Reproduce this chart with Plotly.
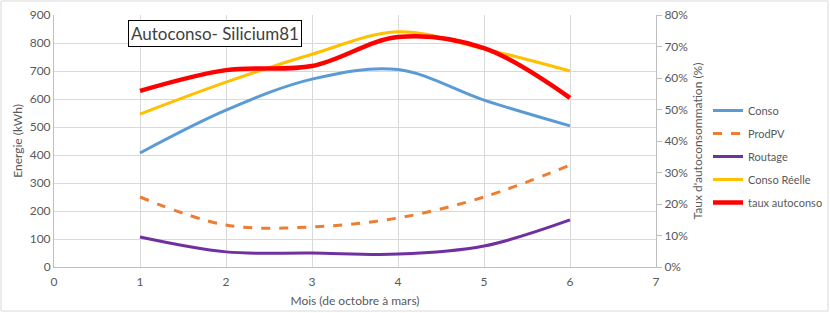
import plotly.graph_objects as go

mois = [1, 2, 3, 4, 5, 6]
conso = [407, 560, 671, 705, 596, 504]
prodpv = [250, 150, 143, 175, 250, 364]
routage = [107, 54, 50, 46, 75, 168]
conso_reelle = [546, 660, 760, 840, 779, 700]
taux = [0.559, 0.625, 0.638, 0.730, 0.695, 0.537]

FONT = "Lato"
GRAY = "#595959"

fig = go.Figure()
fig.add_trace(go.Scatter(x=mois, y=conso, name="Conso", mode="lines", legendgroup="a",
                         line=dict(color="#5B9BD5", width=3, shape="spline")))
fig.add_trace(go.Scatter(x=mois, y=prodpv, name="ProdPV", mode="lines", legendgroup="b",
                         line=dict(color="#ED7D31", width=3, dash="dash", shape="spline")))
fig.add_trace(go.Scatter(x=mois, y=routage, name="Routage", mode="lines", legendgroup="c",
                         line=dict(color="#7030A0", width=3, shape="spline")))
fig.add_trace(go.Scatter(x=mois, y=conso_reelle, name="Conso Réelle", mode="lines", legendgroup="d",
                         line=dict(color="#FFC000", width=3, shape="spline")))
fig.add_trace(go.Scatter(x=mois, y=taux, name="taux autoconso", mode="lines", yaxis="y2", legendgroup="e",
                         line=dict(color="#FF0000", width=4.5, shape="spline")))

W, H = 830, 313
L, R, T, B = 54, 174, 15, 46
pw, ph = W - L - R, H - T - B

fig.update_layout(
    width=W, height=H,
    margin=dict(l=L, r=R, t=T, b=B),
    paper_bgcolor="white", plot_bgcolor="white",
    font=dict(family=FONT, size=12, color=GRAY),
    xaxis=dict(range=[0, 7], dtick=1, tick0=0, showgrid=True, gridcolor="#d9d9d9",
               showline=True, linecolor="#bfbfbf", zeroline=False, automargin=False,
               title=dict(text="Mois (de octobre à mars)", standoff=8, font=dict(size=12, color=GRAY)),
               ticks="outside", ticklen=4, tickcolor="rgba(0,0,0,0)", tickfont=dict(size=12, color=GRAY)),
    yaxis=dict(range=[0, 900], dtick=100, showgrid=True, gridcolor="#d9d9d9",
               showline=True, linecolor="#bfbfbf", zeroline=False, automargin=False,
               title=dict(text="Energie (kWh)", standoff=4, font=dict(size=12, color=GRAY)),
               tickfont=dict(size=12, color=GRAY)),
    yaxis2=dict(range=[0, 0.8], dtick=0.1, tickformat=".0%", overlaying="y", side="right",
                showgrid=False, showline=True, linecolor="#bfbfbf", zeroline=False, automargin=False,
                ticks="outside", ticklen=5, tickcolor="#bfbfbf",
                title=dict(text="Taux d'autoconsommation (%)", standoff=6, font=dict(size=12, color=GRAY)),
                tickfont=dict(size=12, color=GRAY)),
    legend=dict(xref="container", yref="container", x=708 / W, y=1 - 96 / H,
                xanchor="left", yanchor="top",
                bgcolor="rgba(0,0,0,0)", font=dict(size=11, color=GRAY),
                tracegroupgap=4, itemwidth=30),
    showlegend=True,
    annotations=[dict(text="Autoconso- Silicium81", xref="paper", yref="paper",
                      x=(128 - L) / pw, y=1 - (20 - T) / ph, xanchor="left", yanchor="top",
                      showarrow=False, font=dict(size=17, color="#404040", family=FONT),
                      bordercolor="black", borderwidth=1, borderpad=2, bgcolor="white")],
    shapes=[dict(type="rect", xref="paper", yref="paper",
                 x0=(1 - L) / pw, x1=(W - 2 - L) / pw, y0=-(H - 2 - T - ph) / ph, y1=1 + (T - 1) / ph,
                 line=dict(color="#d9d9d9", width=1), layer="below")],
)

fig.write_html("out.html")
